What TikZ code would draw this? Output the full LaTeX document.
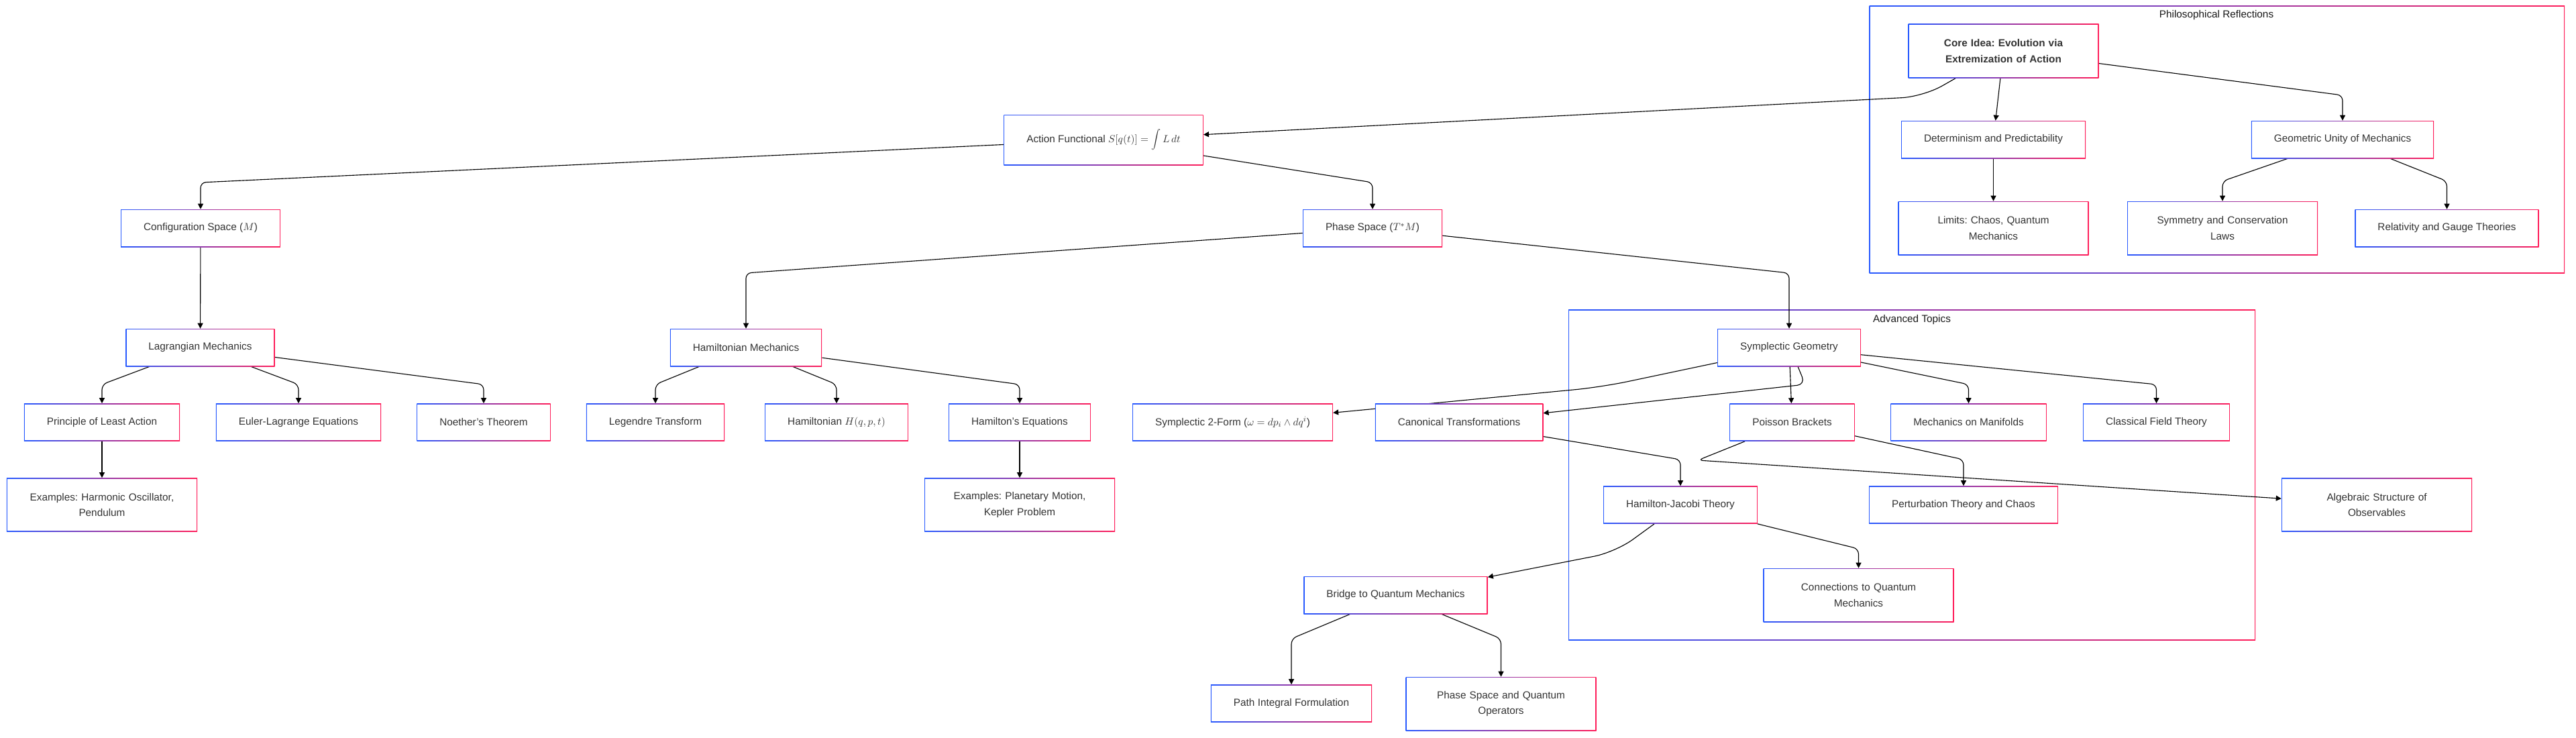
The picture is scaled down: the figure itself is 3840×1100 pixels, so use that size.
\documentclass[tikz,border=0pt]{standalone}
\usepackage{fontspec}
\setmainfont{Liberation Sans}
\usepackage{xcolor}
\usepackage{tikz}
\usetikzlibrary{arrows.meta}
\definecolor{cblue}{RGB}{40,90,255}
\definecolor{cred}{RGB}{255,30,90}
\definecolor{ctext}{RGB}{51,51,51}
\pgfdeclarelayer{bottom}
\pgfdeclarelayer{background}
\pgfsetlayers{bottom,background,main}
\frenchspacing
\tikzset{
	concept/.style={rectangle, left color=cblue, right color=cred, minimum height=14mm, inner xsep=8.5mm, inner ysep=0pt, text=ctext, font=\fontsize{10.9}{17}\selectfont, align=center,
		path picture={\fill[white] ([shift={(\bw,-\bw)}]path picture bounding box.north west) rectangle ([shift={(-\bw,\bw)}]path picture bounding box.south east);}},
	wide/.style={concept, text width=59mm, inner xsep=6mm, minimum height=20mm},
	cluster/.style={concept, inner sep=0pt},
	tag/.style={anchor=north, inner sep=0pt, text=black!90, font=\fontsize{10.9}{13}\selectfont},
	link/.style={draw=black, line width=0.8pt, rounded corners=2mm, -{Triangle[length=2mm,width=2mm]}},
}

\begin{document}
\begin{tikzpicture}[x=0.25mm,y=-0.25mm]
		\def\bw{0.8pt}
		\useasboundingbox (0,0) rectangle (3840,1100);
		\begin{pgfonlayer}{bottom}
			\fill[white] (0,0) rectangle (3840,1100);
			\node[cluster, minimum width=259.1mm, minimum height=99.5mm] (phi) at (3304.75,208) {};
			\node[cluster, minimum width=256mm, minimum height=123mm] (adv) at (2850,708) {};
		\end{pgfonlayer}
		\node[tag] (phl) at (3304,15) {Philosophical Reflections};
		\node[tag] (adl) at (2850,469) {Advanced Topics};

		\node[wide] (core) at (2986.5,76) {\textbf{Core Idea: Evolution via}\\\textbf{Extremization of Action}};
		\node[concept] (det) at (2971.5,208) {Determinism and Predictability};
		\node[concept] (geo) at (3492,208) {Geometric Unity of Mechanics};
		\node[wide] (lim) at (2971.5,340) {Limits: Chaos, Quantum\\Mechanics};
		\node[wide] (symc) at (3313,340) {Symmetry and Conservation\\Laws};
		\node[concept] (rel) at (3647.5,340) {Relativity and Gauge Theories};

		\node[concept, minimum height=18.75mm] (act) at (1645,208.5) {Action Functional $S[q(t)] = \displaystyle\int L\,dt$};
		\node[concept] (cfg) at (299,340) {Configuration Space ($M$)};
		\node[concept] (pha) at (2046,340) {Phase Space ($T^*M$)};
		\node[concept] (lag) at (298.5,518) {Lagrangian Mechanics};
		\node[concept] (ham) at (1112,518) {Hamiltonian Mechanics};
		\node[concept] (sym) at (2667,518) {Symplectic Geometry};
		\node[concept] (pla) at (152,629.5) {Principle of Least Action};
		\node[concept] (eul) at (445,629.5) {Euler-Lagrange Equations};
		\node[concept] (noe) at (721,629.5) {Noether's Theorem};
		\node[concept] (leg) at (977,629.5) {Legendre Transform};
		\node[concept] (hfn) at (1247,629.5) {Hamiltonian $H(q,p,t)$};
		\node[concept] (heq) at (1520,629.5) {Hamilton's Equations};
		\node[concept] (tfm) at (1837.5,629.5) {Symplectic 2-Form ($\omega = dp_i \wedge dq^i$)};
		\node[concept] (can) at (2175,629.5) {Canonical Transformations};
		\node[concept] (poi) at (2671.5,629.5) {Poisson Brackets};
		\node[concept] (man) at (2934.5,629.5) {Mechanics on Manifolds};
		\node[concept] (cft) at (3214.5,629.5) {Classical Field Theory};
		\node[wide] (exh) at (152,752.5) {Examples: Harmonic Oscillator,\\Pendulum};
		\node[wide] (exp) at (1520,752.5) {Examples: Planetary Motion,\\Kepler Problem};
		\node[concept] (hjt) at (2505,752.5) {Hamilton-Jacobi Theory};
		\node[concept] (per) at (2927,752.5) {Perturbation Theory and Chaos};
		\node[wide] (alg) at (3543,752.5) {Algebraic Structure of\\Observables};
		\node[concept] (bri) at (2080.5,887) {Bridge to Quantum Mechanics};
		\node[wide] (con) at (2770.5,887) {Connections to Quantum\\Mechanics};
		\node[concept] (pif) at (1925,1048.5) {Path Integral Formulation};
		\node[wide] (psq) at (2237.5,1049) {Phase Space and Quantum\\Operators};

		\begin{pgfonlayer}{background}
			\draw[link, rounded corners=8mm] (core) -- (2867,144) -- (act);
			\draw[link] (core) -- (det);
			\draw[link] (core) -- (geo.north |- 0,142) -- (geo.north);
			\draw[link] (det) -- (lim);
			\draw[link] (geo) -- (symc.north |- 0,270) -- (symc.north);
			\draw[link] (geo) -- (rel.north |- 0,270) -- (rel.north);
			\draw[link] (act) -- (cfg.north |- 0,272) -- (cfg.north);
			\draw[link] (act) -- (pha.north |- 0,272) -- (pha.north);
			\draw[link] (cfg) -- (lag);
			\draw[link] (lag) -- (pla.north |- 0,573) -- (pla.north);
			\draw[link] (lag) -- (eul.north |- 0,573) -- (eul.north);
			\draw[link] (lag) -- (noe.north |- 0,573) -- (noe.north);
			\draw[link] (pla) -- (exh);
			\draw[link] (pha) -- (ham.north |- 0,407) -- (ham.north);
			\draw[link] (pha) -- (sym.north |- 0,407) -- (sym.north);
			\draw[link] (ham) -- (leg.north |- 0,573) -- (leg.north);
			\draw[link] (ham) -- (hfn.north |- 0,573) -- (hfn.north);
			\draw[link] (ham) -- (heq.north |- 0,573) -- (heq.north);
			\draw[link] (heq) -- (exp);
			\draw[link, rounded corners=10mm] (sym) -- (2387,577) -- (tfm);
			\draw[link, rounded corners=3mm] (sym.south -| 2680,0) -- (2691,573) -- (can);
			\draw[link] (sym) -- (poi);
			\draw[link] (sym) -- (man.north |- 0,573) -- (man.north);
			\draw[link] (sym) -- (cft.north |- 0,573) -- (cft.north);
			\draw[link] (can) -- (hjt.north |- 0,685) -- (hjt.north);
			\draw[link] (poi) -- (per.north |- 0,685) -- (per.north);
			\draw[link] (poi) -- (2531,686) -- (alg);
			\draw[link, rounded corners=8mm] (hjt) -- (2408,823) -- (bri);
			\draw[link] (hjt) -- (con.north |- 0,818) -- (con.north);
			\draw[link] (bri) -- (pif.north |- 0,952) -- (pif.north);
			\draw[link] (bri) -- (psq.north |- 0,952) -- (psq.north);
		\end{pgfonlayer}
	\end{tikzpicture}
\end{document}
